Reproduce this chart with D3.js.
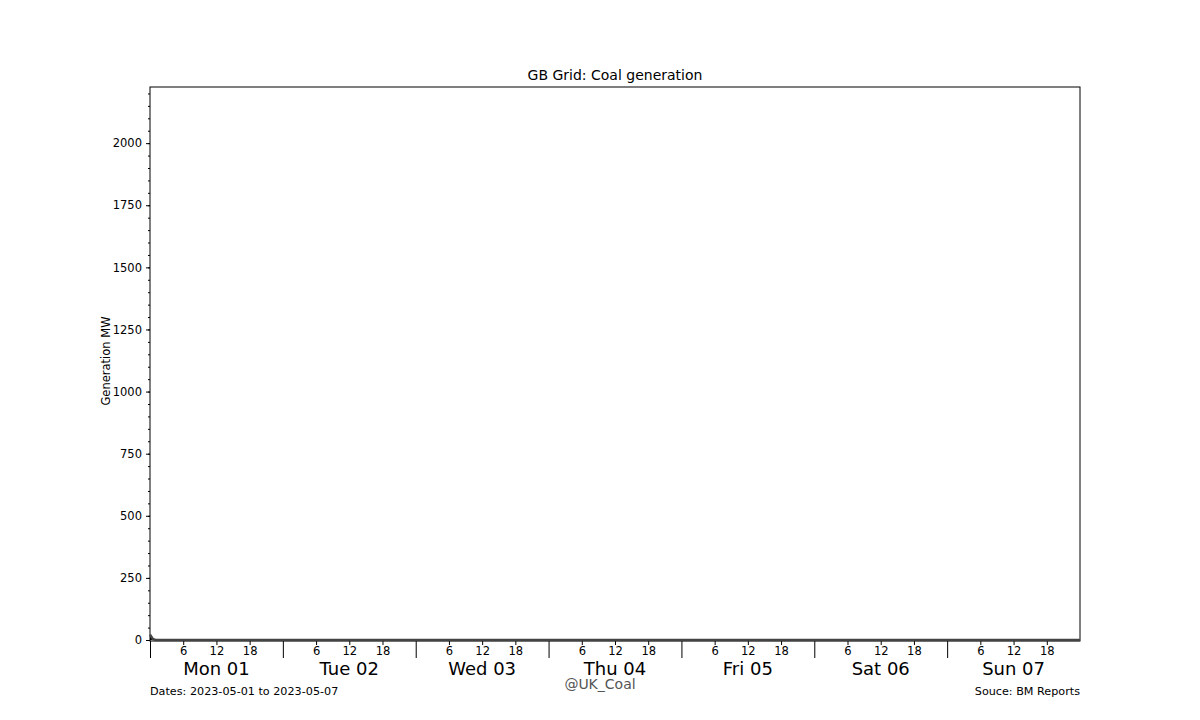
<!DOCTYPE html>
<html><head><meta charset="utf-8">
<script src="https://cdn.jsdelivr.net/npm/d3@7"></script>
<style>body{margin:0;background:#fff}text{font-family:"DejaVu Sans",sans-serif}</style>
</head><body><svg id="c" width="1200" height="720"></svg>
<script>
const startDate = "2023-05-01";
const dayLabels = ["Mon 01","Tue 02","Wed 03","Thu 04","Fri 05","Sat 06","Sun 07"];
const hourTicks = [6,12,18];
const coalHours = [0, 0.5, 1, 168];
const coalMW = [22, 4, 0, 0];
const yTicks = [0,250,500,750,1000,1250,1500,1750,2000];

const svg = d3.select("#c");
const L=150,R=1080,T=87,B=641;
const x = d3.scaleLinear().domain([0,168]).range([L,R]);
const y = d3.scaleLinear().domain([-4,2226]).range([B,T]);

svg.append("rect").attr("x",L).attr("y",T).attr("width",R-L).attr("height",B-T).attr("fill","none").attr("stroke","#000");

const ya = svg.append("g").attr("transform",`translate(${L},0)`)
  .call(d3.axisLeft(y).tickValues(yTicks).tickSize(4).tickPadding(4).tickFormat(d3.format("d")));
ya.select(".domain").remove();
ya.selectAll("text").attr("font-size",11.5).attr("fill","#000");
svg.append("g").attr("transform",`translate(${L},0)`)
  .call(d3.axisLeft(y).tickValues(d3.range(0,2226,50)).tickSize(2).tickFormat(""))
  .select(".domain").remove();

const dayIdx = d3.range(dayLabels.length);
svg.append("g").attr("transform",`translate(0,${B})`)
  .call(d3.axisBottom(x).tickValues(dayIdx.map(d=>d*24)).tickSize(17).tickFormat(""))
  .select(".domain").remove();
const hx = [];
dayIdx.forEach(d=>hourTicks.forEach(h=>hx.push(d*24+h)));
const xa = svg.append("g").attr("transform",`translate(0,${B})`)
  .call(d3.axisBottom(x).tickValues(hx).tickSize(4).tickPadding(2).tickFormat(v=>v%24));
xa.select(".domain").remove();
xa.selectAll("text").attr("font-size",11.5).attr("fill","#000");
svg.selectAll(".dl").data(dayLabels).join("text")
  .attr("x",(d,i)=>x(i*24+12)).attr("y",675).attr("text-anchor","middle")
  .attr("font-size",18).text(d=>d);

const pts = coalHours.map((h,i)=>[h,coalMW[i]]);
svg.append("path").attr("fill","#000")
  .attr("d",d3.area().x(d=>x(d[0])).y0(y(0)).y1(d=>y(d[1]))(pts));
svg.append("path").attr("fill","none").attr("stroke","#444").attr("stroke-width",2.5)
  .attr("d",d3.line().x(d=>x(d[0])).y(d=>y(d[1]))(pts));

svg.append("text").attr("x",615).attr("y",80).attr("text-anchor","middle").attr("font-size",14).text("GB Grid: Coal generation");
svg.append("text").attr("transform","translate(110,361) rotate(-90)").attr("text-anchor","middle").attr("font-size",11.5).text("Generation MW");
svg.append("text").attr("x",150).attr("y",695).attr("font-size",11.2).text("Dates: 2023-05-01 to 2023-05-07");
svg.append("text").attr("x",1080).attr("y",695).attr("text-anchor","end").attr("font-size",11.2).text("Souce: BM Reports");
svg.append("text").attr("x",600).attr("y",689).attr("text-anchor","middle").attr("font-size",14).attr("fill","#555").text("@UK_Coal");
</script></body></html>
